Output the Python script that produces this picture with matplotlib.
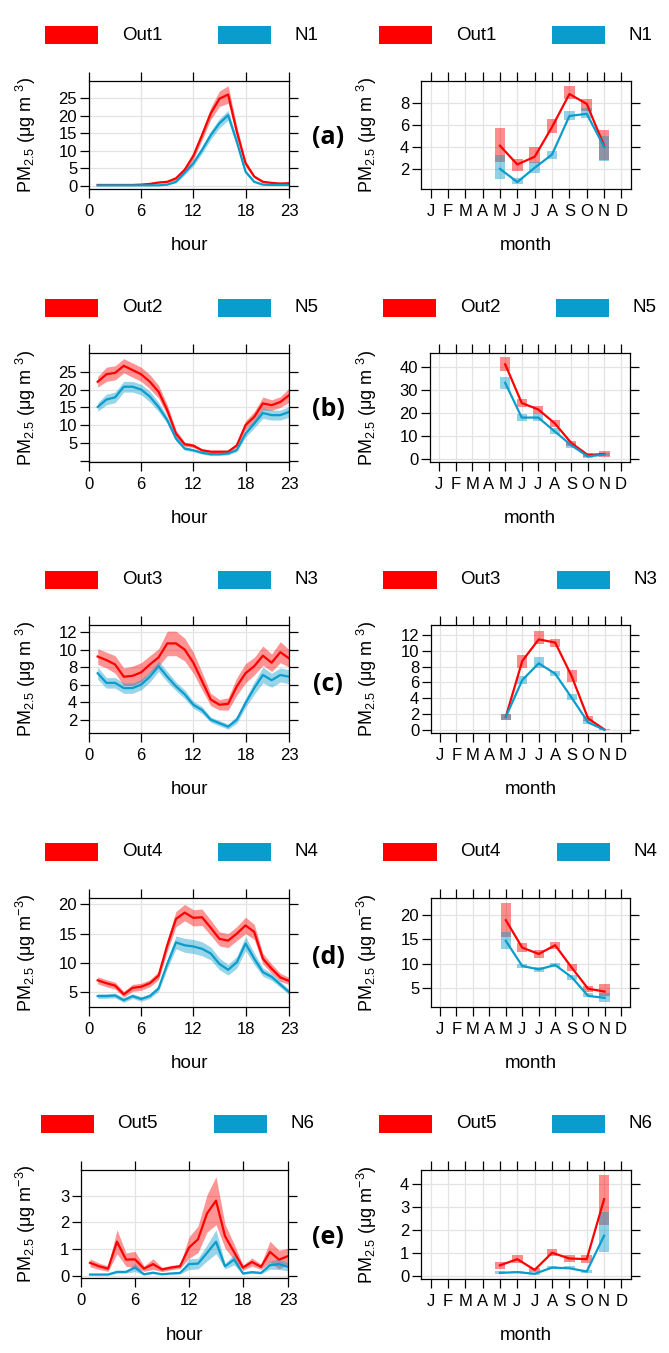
import matplotlib
matplotlib.use("Agg")
import matplotlib.pyplot as plt
from matplotlib.patches import Rectangle
import numpy as np

plt.rcParams["font.family"] = ["Liberation Sans", "DejaVu Sans"]
plt.rcParams["mathtext.fontset"] = "custom"
plt.rcParams["mathtext.rm"] = "Liberation Sans"
plt.rcParams["mathtext.it"] = "Liberation Sans:italic"

W, H = 669, 1353
RED = "#ff0000"
BLUE = "#0a9ccc"

HOURS = list(range(1, 24))
MONTHS = [5, 6, 7, 8, 9, 10, 11]
MONTH_LABELS = ["J", "F", "M", "A", "M", "J", "J", "A", "S", "O", "N", "D"]

# ---- (a) Out1 / N1 ----
out1_h = [0.2, 0.2, 0.2, 0.2, 0.2, 0.3, 0.5, 0.9, 1.1, 2.1, 4.5, 8.5, 14.4, 20.6, 24.8, 26.0, 15.4, 6.4, 2.6, 1.1, 0.8, 0.6, 0.7]
out1_h_ci = [0.1, 0.1, 0.1, 0.1, 0.1, 0.1, 0.2, 0.2, 0.3, 0.5, 0.8, 1.0, 1.3, 1.7, 2.2, 2.5, 1.5, 0.8, 0.4, 0.3, 0.2, 0.2, 0.2]
n1_h = [0.1, 0.1, 0.1, 0.1, 0.1, 0.1, 0.1, 0.1, 0.3, 1.1, 3.7, 6.4, 10.2, 14.4, 17.8, 20.1, 12.5, 4.0, 1.1, 0.3, 0.2, 0.2, 0.2]
n1_h_ci = [0.05, 0.05, 0.05, 0.05, 0.05, 0.05, 0.05, 0.05, 0.1, 0.3, 0.6, 0.8, 1.0, 1.2, 1.3, 1.4, 1.0, 0.5, 0.2, 0.1, 0.05, 0.05, 0.05]
out1_m = [4.1, 2.4, 3.1, 5.8, 8.8, 7.9, 4.1]
out1_m_lo = [2.6, 1.8, 2.5, 5.3, 8.3, 7.3, 2.8]
out1_m_hi = [5.7, 2.9, 4.0, 6.5, 9.5, 8.3, 5.5]
n1_m = [2.0, 0.8, 2.1, 3.3, 6.8, 7.0, 4.0]
n1_m_lo = [1.1, 0.6, 1.6, 2.9, 6.4, 6.6, 2.7]
n1_m_hi = [3.3, 1.2, 2.6, 3.6, 7.3, 7.5, 5.0]

# ---- (b) Out2 / N5 ----
out2_h = [22.2, 24.3, 24.7, 26.7, 25.5, 24.3, 22.2, 19.4, 14.2, 7.6, 4.6, 4.2, 2.9, 2.5, 2.5, 2.5, 4.3, 10.0, 12.3, 16.1, 15.6, 16.5, 18.4]
out2_h_ci = [1.5, 2.0, 2.0, 2.0, 2.0, 2.0, 2.0, 1.8, 1.5, 1.0, 0.6, 0.5, 0.4, 0.4, 0.4, 0.4, 0.5, 1.2, 1.5, 1.8, 1.5, 1.5, 2.0]
n5_h = [15.1, 17.2, 17.8, 20.8, 20.8, 20.0, 18.0, 15.1, 11.4, 6.2, 3.4, 2.9, 2.2, 1.8, 1.8, 2.0, 3.0, 7.6, 10.4, 13.4, 12.8, 12.8, 13.7]
n5_h_ci = [1.2, 1.5, 1.5, 1.5, 1.5, 1.5, 1.5, 1.3, 1.0, 0.7, 0.5, 0.4, 0.4, 0.4, 0.4, 0.4, 0.5, 1.0, 1.2, 1.5, 1.4, 1.4, 1.5]
out2_m = [41.0, 24.3, 21.5, 15.5, 7.0, 1.8, 2.3]
out2_m_lo = [38.0, 22.5, 19.5, 14.0, 5.5, 1.0, 1.0]
out2_m_hi = [44.0, 26.0, 23.0, 17.0, 8.0, 2.5, 3.5]
n5_m = [33.0, 18.0, 18.0, 12.0, 6.0, 1.2, 2.0]
n5_m_lo = [30.5, 16.5, 16.5, 11.0, 5.0, 0.7, 1.2]
n5_m_hi = [35.5, 19.5, 19.5, 13.5, 7.0, 1.8, 2.8]

# ---- (c) Out3 / N3 ----
out3_h = [9.2, 8.8, 8.3, 6.9, 7.0, 7.4, 8.3, 9.1, 10.7, 10.7, 10.0, 8.5, 6.4, 4.3, 3.7, 3.8, 5.8, 7.3, 8.1, 9.3, 8.5, 9.7, 9.0]
out3_h_ci = [0.9, 0.9, 1.0, 1.0, 1.1, 1.1, 1.0, 1.0, 1.4, 1.4, 1.3, 1.2, 1.0, 0.7, 0.6, 0.7, 1.0, 1.1, 1.0, 1.1, 1.0, 1.2, 1.0]
n3_h = [7.3, 6.2, 6.2, 5.6, 5.6, 6.0, 6.9, 8.1, 6.9, 5.8, 4.9, 3.7, 3.1, 2.0, 1.6, 1.2, 2.0, 3.9, 5.6, 7.1, 6.5, 7.1, 6.9]
n3_h_ci = [0.7, 0.6, 0.6, 0.6, 0.6, 0.6, 0.6, 0.6, 0.6, 0.5, 0.5, 0.4, 0.4, 0.3, 0.3, 0.3, 0.4, 0.5, 0.7, 0.9, 0.8, 0.8, 0.8]
out3_m = [1.7, 8.7, 11.4, 11.0, 6.8, 1.5, 0.1]
out3_m_lo = [1.3, 7.8, 10.8, 10.5, 6.0, 1.2, 0.0]
out3_m_hi = [2.1, 9.5, 12.4, 11.5, 7.5, 1.8, 0.2]
n3_m = [1.7, 6.3, 8.4, 7.1, 4.1, 1.0, 0.05]
n3_m_lo = [1.3, 5.8, 7.8, 6.8, 3.8, 0.8, 0.0]
n3_m_hi = [2.1, 6.8, 9.2, 7.4, 4.5, 1.3, 0.1]

# ---- (d) Out4 / N4 ----
out4_h = [7.0, 6.5, 6.1, 4.6, 5.7, 5.9, 6.5, 7.8, 13.0, 17.5, 18.6, 17.7, 17.8, 16.0, 14.1, 13.8, 15.0, 16.4, 15.3, 10.7, 9.0, 7.5, 6.9]
out4_h_ci = [0.6, 0.6, 0.6, 0.5, 0.6, 0.6, 0.6, 0.7, 1.0, 1.3, 1.4, 1.4, 1.4, 1.3, 1.2, 1.2, 1.2, 1.4, 1.3, 0.9, 0.8, 0.7, 0.6]
n4_h = [4.3, 4.3, 4.4, 3.6, 4.3, 3.8, 4.3, 5.6, 9.8, 13.5, 13.0, 12.8, 12.4, 11.6, 9.8, 8.8, 10.1, 13.3, 10.7, 8.4, 7.6, 6.3, 5.0]
n4_h_ci = [0.4, 0.4, 0.4, 0.4, 0.4, 0.4, 0.4, 0.5, 0.8, 1.1, 1.2, 1.2, 1.2, 1.1, 1.0, 0.9, 1.0, 1.2, 1.0, 0.7, 0.6, 0.5, 0.4]
out4_m = [19.0, 13.3, 12.0, 13.8, 9.2, 4.8, 4.2]
out4_m_lo = [15.5, 12.5, 11.2, 13.0, 8.5, 4.2, 3.2]
out4_m_hi = [22.5, 14.2, 12.8, 14.5, 10.0, 5.4, 5.8]
n4_m = [14.7, 9.5, 8.8, 9.7, 7.2, 3.3, 2.9]
n4_m_lo = [13.0, 9.0, 8.3, 9.3, 6.7, 3.0, 2.0]
n4_m_hi = [16.5, 10.0, 9.3, 10.2, 7.7, 3.8, 3.8]

# ---- (e) Out5 / N6 ----
out5_h = [0.48, 0.35, 0.26, 1.27, 0.60, 0.61, 0.26, 0.43, 0.23, 0.30, 0.35, 1.05, 1.36, 2.33, 2.81, 1.48, 0.89, 0.30, 0.51, 0.33, 0.89, 0.60, 0.73]
out5_h_ci = [0.15, 0.12, 0.10, 0.45, 0.25, 0.30, 0.10, 0.20, 0.08, 0.08, 0.08, 0.40, 0.50, 0.70, 0.90, 0.45, 0.30, 0.10, 0.15, 0.10, 0.40, 0.35, 0.30]
n6_h = [0.04, 0.04, 0.04, 0.14, 0.14, 0.30, 0.05, 0.11, 0.05, 0.08, 0.10, 0.43, 0.45, 0.85, 1.27, 0.35, 0.60, 0.08, 0.13, 0.10, 0.39, 0.43, 0.33]
n6_h_ci = [0.02, 0.02, 0.02, 0.05, 0.05, 0.15, 0.03, 0.04, 0.02, 0.03, 0.04, 0.20, 0.20, 0.30, 0.45, 0.10, 0.20, 0.03, 0.05, 0.04, 0.15, 0.20, 0.15]
out5_m = [0.45, 0.72, 0.25, 1.0, 0.75, 0.72, 3.35]
out5_m_lo = [0.30, 0.55, 0.15, 0.85, 0.60, 0.55, 2.2]
out5_m_hi = [0.60, 0.90, 0.35, 1.15, 0.90, 0.90, 4.4]
n6_m = [0.12, 0.15, 0.08, 0.35, 0.32, 0.18, 1.75]
n6_m_lo = [0.08, 0.10, 0.04, 0.30, 0.27, 0.12, 1.05]
n6_m_hi = [0.18, 0.20, 0.12, 0.42, 0.40, 0.25, 2.8]

UNIT_OLD = r"PM$_{\mathregular{2.5}}$ (μg m $^{\mathregular{3}}$)"
UNIT_NEW = r"PM$_{\mathregular{2.5}}$ (μg m$^{\mathregular{-3}}$)"

# one row per site pair: names, hourly, monthly, y-axis setup, panel boxes (px)
ROWS = [
    dict(names=("Out1", "N1"), letter="(a)", unit=UNIT_OLD,
         hourly=(out1_h, out1_h_ci, n1_h, n1_h_ci),
         monthly=(out1_m, out1_m_lo, out1_m_hi, n1_m, n1_m_lo, n1_m_hi),
         hy=((-0.95, 29.85), [0, 5, 10, 15, 20, 25], ["0", "5", "10", "15", "20", "25"]),
         my=((0.17, 9.98), [2, 4, 6, 8], ["2", "4", "6", "8"]),
         lbox=(89, 81, 289, 189), rbox=(421, 81, 631, 189), leg_y=35, let_y=138),
    dict(names=("Out2", "N5"), letter="(b)", unit=UNIT_OLD,
         hourly=(out2_h, out2_h_ci, n5_h, n5_h_ci),
         monthly=(out2_m, out2_m_lo, out2_m_hi, n5_m, n5_m_lo, n5_m_hi),
         hy=((-0.4, 30.3), [0, 5, 10, 15, 20, 25], ["", "5", "10", "15", "20", "25"]),
         my=((-1.2, 45.9), [0, 10, 20, 30, 40], ["0", "10", "20", "30", "40"]),
         lbox=(89, 353, 289, 462), rbox=(430, 353, 630, 462), leg_y=308, let_y=410),
    dict(names=("Out3", "N3"), letter="(c)", unit=UNIT_OLD,
         hourly=(out3_h, out3_h_ci, n3_h, n3_h_ci),
         monthly=(out3_m, out3_m_lo, out3_m_hi, n3_m, n3_m_lo, n3_m_hi),
         hy=((0.48, 12.8), [2, 4, 6, 8, 10, 12], ["2", "4", "6", "8", "10", "12"]),
         my=((-0.33, 13.2), [0, 2, 4, 6, 8, 10, 12], ["0", "2", "4", "6", "8", "10", "12"]),
         lbox=(89, 625, 289, 733), rbox=(431, 625, 630, 733), leg_y=580, let_y=685),
    dict(names=("Out4", "N4"), letter="(d)", unit=UNIT_NEW,
         hourly=(out4_h, out4_h_ci, n4_h, n4_h_ci),
         monthly=(out4_m, out4_m_lo, out4_m_hi, n4_m, n4_m_lo, n4_m_hi),
         hy=((2.43, 21.1), [5, 10, 15, 20], ["5", "10", "15", "20"]),
         my=((1.0, 23.6), [5, 10, 15, 20], ["5", "10", "15", "20"]),
         lbox=(89, 898, 289, 1007), rbox=(431, 898, 630, 1007), leg_y=852, let_y=958),
    dict(names=("Out5", "N6"), letter="(e)", unit=UNIT_NEW,
         hourly=(out5_h, out5_h_ci, n6_h, n6_h_ci),
         monthly=(out5_m, out5_m_lo, out5_m_hi, n6_m, n6_m_lo, n6_m_hi),
         hy=((-0.09, 3.96), [0, 1, 2, 3], ["0", "1", "2", "3"]),
         my=((-0.15, 4.63), [0, 1, 2, 3, 4], ["0", "1", "2", "3", "4"]),
         lbox=(81, 1170, 288, 1278), rbox=(421, 1170, 631, 1279), leg_y=1124, let_y=1237),
]

fig = plt.figure(figsize=(W / 100, H / 100), dpi=100)


def px_axes(box):
    l, t, r, b = box
    return fig.add_axes([l / W, 1 - b / H, (r - l) / W, (b - t) / H])


def fig_text(x, y, s, **kw):
    fig.text(x / W, 1 - y / H, s, **kw)


def legend_strip(cx, cy, names):
    # coloured key boxes with the site names, lattice style
    for dx, color, name in ((-139, RED, names[0]), (34, BLUE, names[1])):
        fig.add_artist(Rectangle(((cx + dx) / W, 1 - (cy + 9) / H), 53 / W, 18 / H,
                                 transform=fig.transFigure, color=color, lw=0))
        fig_text(cx + dx + 77, cy, name, fontsize=13.5, ha="left", va="center")


def frame(ax, box, xlim, xticks, xlabels, ylim, yticks, ylabels, xlabel, unit):
    ax.set_xlim(*xlim)
    ax.set_ylim(*ylim)
    ax.set_xticks(xticks)
    ax.set_xticklabels(xlabels)
    ax.set_yticks(yticks)
    ax.set_yticklabels(ylabels)
    ax.grid(True, color="#e3e3e3", lw=0.9)
    ax.set_axisbelow(True)
    ax.tick_params(direction="out", length=6.5, width=0.9, top=True, right=True,
                   labelsize=12, colors="black")
    ax.tick_params(axis="x", pad=4)
    ax.tick_params(axis="y", pad=2)
    for sp in ax.spines.values():
        sp.set_linewidth(0.9)
    l, t, r, b = box
    fig_text((l + r) / 2, b + 57, xlabel, fontsize=13.5, ha="center", va="center")
    ylab_x = 26 if l < 200 else 367
    fig_text(ylab_x, (t + b) / 2, unit, fontsize=13, rotation=90,
             ha="center", va="center")


for row in ROWS:
    # hourly panel
    ax = px_axes(row["lbox"])
    m_red, ci_red, m_blue, ci_blue = (np.array(v) for v in row["hourly"])
    ax.fill_between(HOURS, m_red - ci_red, m_red + ci_red, color=RED, alpha=0.42, lw=0)
    ax.fill_between(HOURS, m_blue - ci_blue, m_blue + ci_blue, color=BLUE, alpha=0.42, lw=0)
    ax.plot(HOURS, m_red, color=RED, lw=1.6)
    ax.plot(HOURS, m_blue, color=BLUE, lw=1.6)
    ylim, yt, yl = row["hy"]
    frame(ax, row["lbox"], (0, 23), [0, 6, 12, 18, 23], ["0", "6", "12", "18", "23"],
          ylim, yt, yl, "hour", row["unit"])
    l, t, r, b = row["lbox"]
    legend_strip((l + r) / 2 - 5, row["leg_y"], row["names"])

    # monthly panel
    ax = px_axes(row["rbox"])
    mr, lor, hir, mb, lob, hib = (np.array(v) for v in row["monthly"])
    ax.bar(MONTHS, hir - lor, bottom=lor, width=0.62, color=RED, alpha=0.45, lw=0)
    ax.bar(MONTHS, hib - lob, bottom=lob, width=0.62, color=BLUE, alpha=0.45, lw=0)
    ax.plot(MONTHS, mr, color=RED, lw=1.6)
    ax.plot(MONTHS, mb, color=BLUE, lw=1.6)
    ylim, yt, yl = row["my"]
    frame(ax, row["rbox"], (0.45, 12.55), list(range(1, 13)), MONTH_LABELS,
          ylim, yt, yl, "month", row["unit"])
    l, t, r, b = row["rbox"]
    legend_strip((l + r) / 2 - 8, row["leg_y"], row["names"])

    fig_text(328, row["let_y"], row["letter"], fontsize=18, fontweight="bold",
             family=["Open Sans", "DejaVu Sans"], ha="center", va="center")

fig.savefig("out.png", dpi=100)
